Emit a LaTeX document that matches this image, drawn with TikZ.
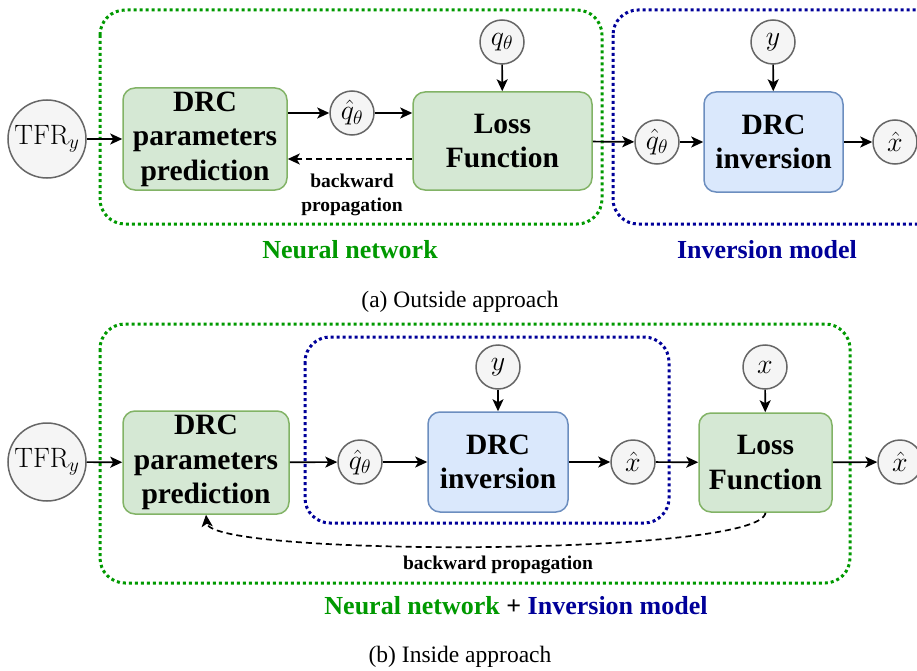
\RequirePackage{fix-cm}
\documentclass[tikz,border=0pt]{standalone}
\usepackage[no-math]{fontspec}
\setmainfont{Liberation Serif}
\usepackage{graphicx}
\usepackage{tikz}
\usetikzlibrary{positioning,arrows.meta,calc}
\usepackage{xcolor}
\definecolor{nngreen}{RGB}{0,153,0}
\definecolor{imblue}{RGB}{0,0,153}
\definecolor{boxgreen}{RGB}{213,232,212}
\definecolor{edgegreen}{RGB}{130,179,102}
\definecolor{boxblue}{RGB}{218,232,252}
\definecolor{edgeblue}{RGB}{108,142,191}
\definecolor{circfill}{RGB}{245,245,245}
\definecolor{circedge}{RGB}{102,102,102}
\newcommand{\varlabel}[1]{\scalebox{1.12}{$#1$}}
\tikzset{every picture/.style={line width=1.5pt}}
\tikzset{
  greenbox/.style={draw=edgegreen,fill=boxgreen,rounded corners=12pt,align=center,inner sep=0pt,font=\fontsize{29.5}{34.5}\selectfont\bfseries},
  bluebox/.style={draw=edgeblue,fill=boxblue,rounded corners=12pt,align=center,inner sep=0pt,font=\fontsize{29.5}{34.5}\selectfont\bfseries},
  var/.style={circle,draw=circedge,fill=circfill,inner sep=0pt,minimum size=44pt,font=\fontsize{25}{30}\selectfont},
  bigvar/.style={var,minimum size=78pt},
  flow/.style={draw=black,line width=1.7pt,-{Stealth[length=12pt,width=11pt,inset=3pt]}},
  backflow/.style={flow,dash pattern=on 6pt off 4pt},
  nnframe/.style={draw=nngreen,line width=3pt,dash pattern=on 3pt off 3pt,rounded corners=25pt},
  imframe/.style={draw=imblue,line width=3pt,dash pattern=on 3pt off 3pt,rounded corners=25pt},
  bptext/.style={align=center,font=\fontsize{19.5}{24}\selectfont\bfseries},
  grouptext/.style={font=\fontsize{26}{30}\selectfont\bfseries},
  captext/.style={font=\fontsize{23.5}{28}\selectfont}
}

\begin{document}
\begin{tikzpicture}[x=1pt,y=1pt,yscale=-1,xscale=1]
\useasboundingbox (0,0) rectangle (917,671);

%%% (a) Outside approach
%Dotted frames
\draw[nnframe] (100,10) rectangle (602,224);
\draw[imframe] (613,10) rectangle (945,224);

%Shapes: boxes
\node[greenbox,minimum width=164pt,minimum height=102pt] (paramsA) at (205,139) {DRC\\parameters\\prediction};
\node[greenbox,minimum width=179pt,minimum height=98pt] (lossA) at (502.5,141) {Loss\\Function};
\node[bluebox,minimum width=139pt,minimum height=100pt] (invA) at (773.5,142) {DRC\\inversion};

%Shapes: circles
\node[bigvar] (tfrA) at (47,139) {\varlabel{\mathrm{TFR}_y}};
\node[var] (qhatA) at (352,113) {\varlabel{\hat{q}_\theta}};
\node[var] (qthA) at (502,42) {\varlabel{q_\theta}};
\node[var] (qhatB) at (657,142) {\varlabel{\hat{q}_\theta}};
\node[var] (yA) at (773,42) {\varlabel{y}};
\node[var] (xhatA) at (895,142) {\varlabel{\hat{x}}};

%Connectors
\draw[flow] (tfrA) -- (paramsA);
\draw[flow] (paramsA.east |- qhatA) -- (qhatA);
\draw[flow] (qhatA) -- (lossA.west |- qhatA);
\draw[flow] (qthA) -- (lossA);
\draw[flow] (lossA) -- (qhatB);
\draw[flow] (qhatB) -- (invA);
\draw[flow] (yA) -- (invA);
\draw[flow] (invA) -- (xhatA);
\draw[backflow] ($(lossA.west)+(0,18)$) -- ($(paramsA.east |- lossA.west)+(0,18)$);

% Text Node
\node[bptext] (bpA) at (352,195) {backward\\propagation};
\node[grouptext,text=nngreen] (nnA) at (350,250) {Neural network};
\node[grouptext,text=imblue] (imA) at (767,250) {Inversion model};
\node[captext] (capA) at (460,302) {(a) Outside approach};

%%% (b) Inside approach
%Dotted frames
\draw[nnframe] (100,324) rectangle (850,583);
\draw[imframe] (305,337) rectangle (669,523);

%Shapes: boxes
\node[greenbox,minimum width=166pt,minimum height=103pt] (paramsB) at (206,462.5) {DRC\\parameters\\prediction};
\node[bluebox,minimum width=140pt,minimum height=100pt] (invB) at (498,462) {DRC\\inversion};
\node[greenbox,minimum width=133pt,minimum height=99pt] (lossB) at (765.5,462.5) {Loss\\Function};

%Shapes: circles
\node[bigvar] (tfrB) at (47,462) {\varlabel{\mathrm{TFR}_y}};
\node[var] (qhatC) at (360,462) {\varlabel{\hat{q}_\theta}};
\node[var] (yB) at (498,367) {\varlabel{y}};
\node[var] (xhatB) at (633,462) {\varlabel{\hat{x}}};
\node[var] (xB) at (765,367) {\varlabel{x}};
\node[var] (xhatC) at (900,462) {\varlabel{\hat{x}}};

%Connectors
\draw[flow] (tfrB) -- (paramsB);
\draw[flow] (paramsB) -- (qhatC);
\draw[flow] (qhatC) -- (invB);
\draw[flow] (yB) -- (invB);
\draw[flow] (invB) -- (xhatB);
\draw[flow] (xhatB) -- (lossB);
\draw[flow] (xB) -- (lossB);
\draw[flow] (lossB) -- (xhatC);
\draw[backflow] (lossB.south) .. controls ($(lossB.south)+(-5,44)$) and ($(paramsB.south)+(4,42)$) .. (paramsB.south);

% Text Node
\node[bptext] (bpB) at (498,565) {backward propagation};
\node[grouptext] (groupB) at (516,606) {\textcolor{nngreen}{Neural network} + \textcolor{imblue}{Inversion model}};
\node[captext] (capB) at (460,657) {(b) Inside approach};

\end{tikzpicture}
\end{document}
